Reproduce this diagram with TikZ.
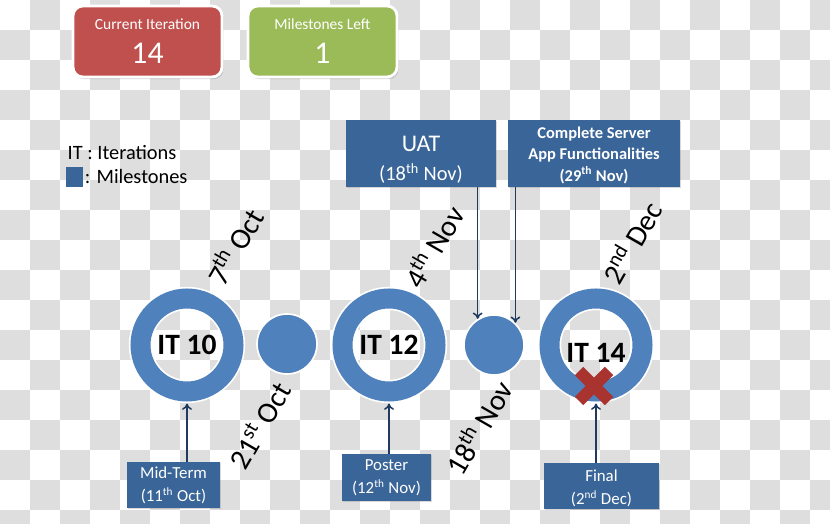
\documentclass[tikz,border=0pt]{standalone}
\usepackage{fontspec}
\setmainfont{Carlito}
\usetikzlibrary{arrows.meta,shadows}
\definecolor{ringblue}{HTML}{4F81BD}
\definecolor{boxblue}{HTML}{3A6598}
\definecolor{arrowblue}{HTML}{1F3A5F}
\definecolor{iterred}{HTML}{C0504D}
\definecolor{leftgreen}{HTML}{9BBB59}
\definecolor{crossred}{HTML}{A9332F}
\definecolor{checkgray}{HTML}{DEDEDE}
\newcommand\pxu{0.025cm}
\newcommand\fs[2]{\fontsize{#1}{#2}\selectfont}

\begin{document}
\begin{tikzpicture}[x=0.025cm, y=-0.025cm,
  tally/.style={rectangle, rounded corners=7pt, draw=white, line width=2pt, text=white,
    align=center, minimum width=149*\pxu, minimum height=71*\pxu, inner sep=0pt,
    font=\fs{11}{24},
    drop shadow={opacity=0.35, shadow xshift=1pt, shadow yshift=-1.5pt}},
  note/.style={rectangle, fill=boxblue, text=white, align=center, inner sep=0pt,
    drop shadow={opacity=0.3, shadow xshift=1pt, shadow yshift=-1pt}},
  ring/.style={circle, draw=white, line width=1.2pt, double=ringblue, double distance=20*\pxu,
    minimum size=93*\pxu, inner sep=0pt, outer sep=12*\pxu, font=\bfseries\fs{21}{24}},
  dot/.style={circle, fill=ringblue, draw=white, line width=1.2pt, minimum size=60*\pxu, inner sep=0pt},
  date/.style={rotate=60, font=\fs{21}{25}},
  arr/.style={arrowblue, line width=1.1pt, -{To[length=4.5pt, width=7pt]}}]
  \useasboundingbox (0,0) rectangle (830,524);
  % background squares
  \begin{scope}
    \clip (0,0) rectangle (830,524);
    \foreach \i in {0,...,27}
      \foreach \j in {0,...,17}{
        \pgfmathtruncatemacro\odd{mod(\i+\j,2)}
        \ifnum\odd=1 \fill[checkgray] (30*\i,30*\j) rectangle ++(30,30); \fi
      }
  \end{scope}

  % counters
  \node[tally, fill=iterred] (curit) at (147.5,41.5) {Current Iteration\\\fs{22.5}{24}14};
  \node[tally, fill=leftgreen] (msleft) at (322.5,41.5) {Milestones Left\\\fs{22.5}{24}1};

  % legend
  \node[anchor=west, inner sep=1pt, font=\fs{14.5}{17}] (itkey) at (66,153) {IT : Iterations};
  \node[fill=boxblue, minimum width=17*\pxu, minimum height=20*\pxu, inner sep=0pt] (mskey) at (74.5,177) {};
  \node[anchor=west, inner sep=1pt, font=\fs{14.5}{17}] (mstext) at (mskey.east) {: Milestones};

  % milestone boxes
  \node[note, font=\fs{14.5}{21}, minimum width=150*\pxu, minimum height=67*\pxu] (uat) at (421,153.5)
    {\rule{0pt}{20pt}\fs{17}{21}UAT\\(18\textsuperscript{th} Nov)};
  \node[note, font=\bfseries\fs{11.7}{15}, minimum width=172*\pxu, minimum height=67*\pxu] (cs) at (594,153.5)
    {\rule{0pt}{11pt}Complete Server\\App Functionalities\\(29\textsuperscript{th} Nov)};
  \node[note, font=\fs{12}{16.5}, minimum width=93*\pxu, minimum height=46*\pxu] (midterm) at (173.5,485)
    {Mid-Term\\(11\textsuperscript{th} Oct)};
  \node[note, font=\fs{12}{16.5}, minimum width=89*\pxu, minimum height=47*\pxu] (poster) at (386.5,477.5)
    {Poster\\(12\textsuperscript{th} Nov)};
  \node[note, font=\fs{12}{16.5}, minimum width=115*\pxu, minimum height=46*\pxu] (final) at (601.5,486)
    {\rule{0pt}{12pt}Final\\(2\textsuperscript{nd} Dec)};

  % iterations and milestones
  \node[ring] (it10) at (187,345) {IT 10};
  \node[dot] (m1) at (287,344) {};
  \node[ring] (it12) at (389,345) {IT 12};
  \node[dot] (m2) at (494,345) {};
  \node[ring] (it14) at (596,345) {\rule{0pt}{25pt}IT 14};
  \draw[crossred, line width=12*\pxu] (579,371) -- (609,401) (609,371) -- (579,401);

  % dates
  \node[date] (d7oct) at (234,246) {7\textsuperscript{th} Oct};
  \node[date] (d4nov) at (433,246) {4\textsuperscript{th} Nov};
  \node[date] (d2dec) at (631,242) {2\textsuperscript{nd} Dec};
  \node[date] (d21oct) at (259,425) {21\textsuperscript{st} Oct};
  \node[date] (d18nov) at (478,427) {18\textsuperscript{th} Nov};

  % arrows
  \draw[arr] (it10.south |- midterm.north) -- (it10.south);
  \draw[arr] (it12.south |- poster.north) -- (it12.south);
  \draw[arr] (it14.south |- final.north) -- (it14.south);
  \draw[arr] (m2.122 |- uat.south) -- (m2.122);
  \draw[arr] (m2.46 |- cs.south) -- (m2.46);
\end{tikzpicture}
\end{document}
